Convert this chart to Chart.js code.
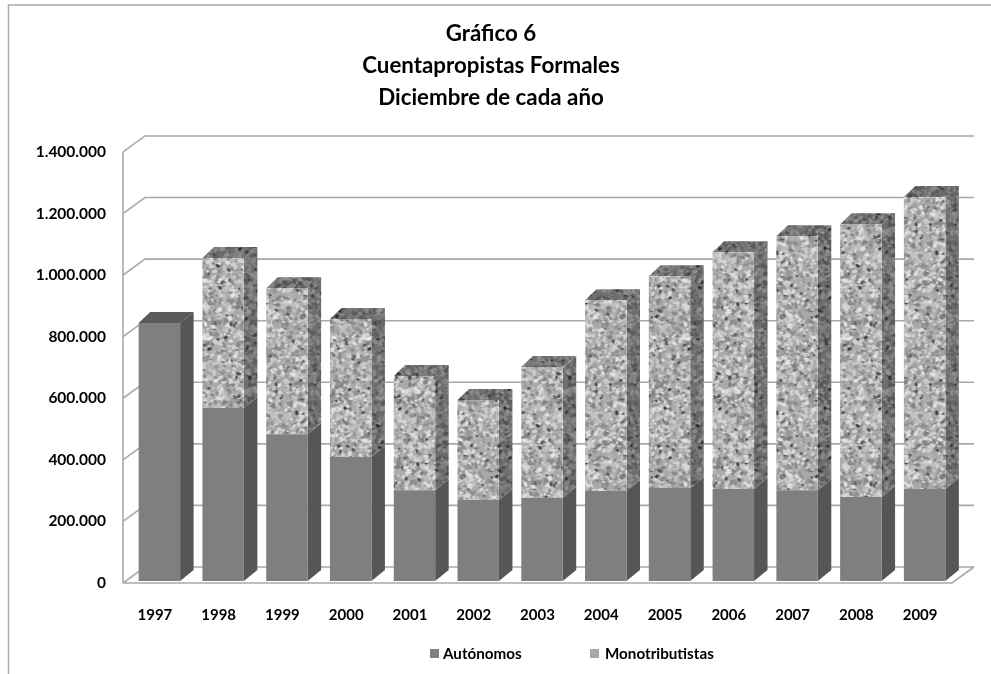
<!DOCTYPE html>
<html>
<head>
<meta charset="utf-8">
<title>Cuentapropistas Formales</title>
<script src="https://cdn.jsdelivr.net/npm/chart.js@4"></script>
<style>
  html, body { margin: 0; padding: 0; background: #fff; overflow: hidden; }
  canvas { display: block; }
</style>
</head>
<body>
<canvas id="chart" width="991" height="674"></canvas>
<script>
const years = ['1997','1998','1999','2000','2001','2002','2003','2004','2005','2006','2007','2008','2009'];
const autonomos = [838000,562000,477000,403000,295000,263000,270000,292000,302000,299000,295000,273000,299000];
const monotributistas = [0,487000,474000,448000,371000,325000,425000,620000,688000,769000,825000,886000,948000];
const titleLines = ['Gráfico 6','Cuentapropistas Formales','Diciembre de cada año'];
const seriesNames = ['Autónomos','Monotributistas'];

const FONT = 'Lato, "Open Sans", sans-serif';
const GRID = '#a9a9a9';
const DEPTH_X = 22, DEPTH_Y = 16;   // back wall offset
const BAR_DX = 13.5, BAR_DY = 11;   // bar depth
const BAR_SHIFT_X = 4.5, BAR_SHIFT_Y = -2;

// granite fill, seeded so every load gives the same texture
function granite(shade) {
  const size = 160;
  const raw = document.createElement('canvas');
  raw.width = raw.height = size;
  const g = raw.getContext('2d');
  let seed = 12345;
  const rnd = () => (seed = (seed * 1664525 + 1013904223) % 4294967296) / 4294967296;
  g.fillStyle = '#aaaaaa';
  g.fillRect(0, 0, size, size);
  for (let i = 0; i < 3000; i++) {
    const v = rnd();
    const c = v < 0.06 ? 55 + rnd() * 45 : v < 0.4 ? 125 + rnd() * 30 : 185 + rnd() * 45;
    const r = v < 0.06 ? 0.7 + rnd() * 1 : 0.7 + rnd() * 1.3;
    const x = rnd() * size, y = rnd() * size;
    g.fillStyle = `rgb(${c},${c},${c})`;
    for (const ox of [-size, 0, size]) for (const oy of [-size, 0, size]) {
      g.beginPath();
      g.ellipse(x + ox, y + oy, r * 1.5, r, rnd() * 3, 0, Math.PI * 2);
      g.fill();
    }
  }
  const out = document.createElement('canvas');
  out.width = out.height = size;
  const o = out.getContext('2d');
  o.filter = 'blur(0.7px)';
  o.drawImage(raw, 0, 0);
  o.filter = 'none';
  o.fillStyle = `rgba(0,0,0,${shade})`;
  o.fillRect(0, 0, size, size);
  return o.createPattern(out, 'repeat');
}

const ctx = document.getElementById('chart').getContext('2d');
const frontFill = granite(0);
const sideFill = granite(0.35);
const topFill = granite(0.35);
const solidFills = { front: '#7f7f7f', side: '#565656', top: '#5a5a5a' };

function line(c, pts) {
  c.beginPath();
  pts.forEach((p, i) => i ? c.lineTo(p[0], p[1]) : c.moveTo(p[0], p[1]));
  c.stroke();
}

function poly(c, pts, fill) {
  c.beginPath();
  pts.forEach((p, i) => i ? c.lineTo(p[0], p[1]) : c.moveTo(p[0], p[1]));
  c.closePath();
  c.fillStyle = fill;
  c.fill();
}

const box3d = {
  id: 'box3d',
  beforeDraw(chart) {
    // outer frame: top and left edges only
    const c = chart.ctx;
    c.save();
    c.strokeStyle = '#aaaaaa';
    c.lineWidth = 1.5;
    line(c, [[8.5, 674], [8.5, 5], [991, 5]]);
    c.restore();
  },
  beforeDatasetsDraw(chart) {
    const c = chart.ctx, area = chart.chartArea, y = chart.scales.y;
    c.save();
    c.strokeStyle = GRID;
    c.lineWidth = 1.6;
    // side wall and back gridlines
    line(c, [[area.left, area.top], [area.left, area.bottom]]);
    y.ticks.forEach(t => {
      const py = y.getPixelForValue(t.value);
      line(c, [[area.left, py], [area.left + DEPTH_X, py - DEPTH_Y], [area.right + DEPTH_X, py - DEPTH_Y]]);
    });
    // floor
    const by = y.getPixelForValue(0);
    line(c, [[area.left, by], [area.right, by], [area.right + DEPTH_X, by - DEPTH_Y]]);
    c.restore();

    // sides and tops of the bars
    c.save();
    c.translate(BAR_SHIFT_X, BAR_SHIFT_Y);
    chart.data.datasets.forEach((ds, di) => {
      const meta = chart.getDatasetMeta(di);
      meta.data.forEach((bar, i) => {
        if (!ds.data[i]) return;
        const r = bar.x + bar.width / 2, l = bar.x - bar.width / 2;
        poly(c, [[r, bar.y], [r + BAR_DX, bar.y - BAR_DY], [r + BAR_DX, bar.base - BAR_DY], [r, bar.base]],
          di === 0 ? solidFills.side : sideFill);
        const isTop = !chart.data.datasets.slice(di + 1).some(d => d.data[i]);
        if (isTop) {
          poly(c, [[l, bar.y], [l + BAR_DX - 2, bar.y - BAR_DY], [r + BAR_DX, bar.y - BAR_DY], [r, bar.y]],
            di === 0 ? solidFills.top : topFill);
        }
      });
    });
    c.restore();

    c.save();
    c.translate(BAR_SHIFT_X, BAR_SHIFT_Y);
  },
  afterDatasetsDraw(chart) {
    chart.ctx.restore();
  },
  afterDraw(chart) {
    // legend row
    const c = chart.ctx;
    const items = [[430, 443, solidFills.front], [590, 605, '#a9a9a9']];
    c.save();
    c.font = `bold 15.2px ${FONT}`;
    c.textBaseline = 'middle';
    items.forEach((it, i) => {
      c.fillStyle = it[2];
      c.fillRect(it[0], 649, 9, 9);
      c.fillStyle = '#000';
      c.fillText(seriesNames[i], it[1], 654);
    });
    c.restore();
  }
};

new Chart(ctx, {
  type: 'bar',
  data: {
    labels: years,
    datasets: [
      { label: seriesNames[0], data: autonomos, backgroundColor: solidFills.front },
      { label: seriesNames[1], data: monotributistas, backgroundColor: frontFill }
    ]
  },
  options: {
    responsive: false,
    animation: false,
    barPercentage: 0.65,
    categoryPercentage: 1,
    layout: { padding: { left: 30, right: 39, top: 18, bottom: 0 } },
    plugins: {
      legend: { display: false },
      tooltip: { enabled: false },
      title: {
        display: true,
        text: titleLines,
        color: '#000',
        font: { family: FONT, size: 22.3, weight: 'bold', lineHeight: 1.43 },
        padding: { top: 0, bottom: 38.3 }
      }
    },
    scales: {
      x: {
        stacked: true,
        grid: { display: false },
        border: { display: false },
        ticks: { color: '#000', padding: 15, maxRotation: 0, font: { family: FONT, size: 15, weight: 'bold' } },
        afterFit(scale) { scale.height = 91; }
      },
      y: {
        stacked: true,
        min: 0,
        max: 1400000,
        grid: { display: false },
        border: { display: false },
        ticks: {
          stepSize: 200000,
          color: '#000',
          padding: 9,
          font: { family: FONT, size: 15.5, weight: 'bold' },
          callback: v => v.toLocaleString('de-DE')
        },
        afterFit(scale) { scale.width = 93; }
      }
    }
  },
  plugins: [box3d]
});
</script>
</body>
</html>
